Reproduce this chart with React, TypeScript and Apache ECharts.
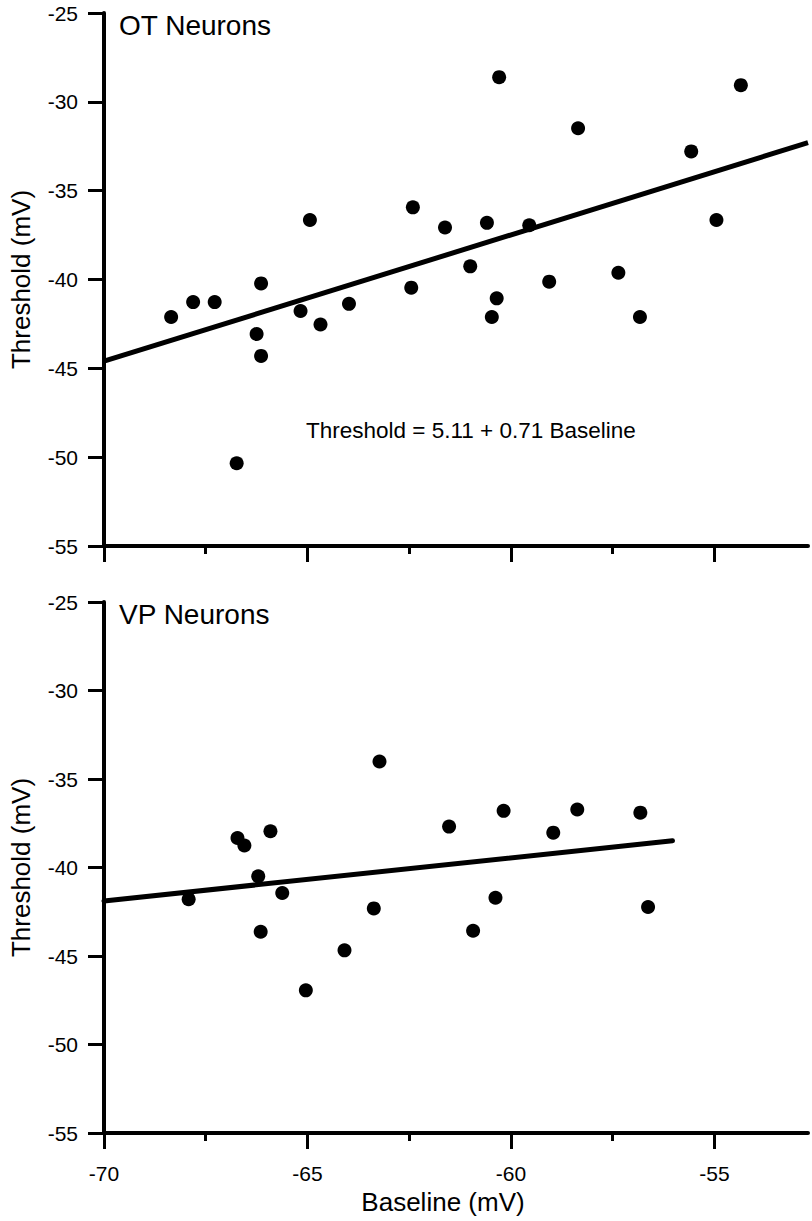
import React, { useEffect, useRef } from 'react';
import * as echarts from 'echarts';

// ---------- data ----------
const otBaseline = [-68.35, -67.81, -67.28, -66.14, -66.25, -66.14, -66.74, -64.94, -65.17, -64.68, -63.98, -62.41, -62.45, -61.62, -60.59, -59.55, -61.0, -60.35, -60.47, -59.06, -60.29, -58.35, -57.36, -56.83, -55.57, -54.95, -54.35];
const otThreshold = [-42.11, -41.27, -41.27, -40.22, -43.07, -44.3, -50.34, -36.65, -41.77, -42.53, -41.37, -35.94, -40.46, -37.07, -36.81, -36.95, -39.26, -41.06, -42.11, -40.12, -28.61, -31.49, -39.62, -42.11, -32.79, -36.65, -29.06];
const otFitX = [-70, -52.7];
const otFitY = [-44.6, -32.3];

const vpBaseline = [-67.92, -66.72, -66.55, -65.91, -66.21, -65.62, -66.15, -65.04, -64.09, -63.37, -63.23, -61.52, -60.18, -58.96, -58.37, -56.82, -60.38, -60.93, -56.63];
const vpThreshold = [-41.79, -38.33, -38.76, -37.95, -40.5, -41.44, -43.63, -46.94, -44.68, -42.31, -34.01, -37.69, -36.8, -38.03, -36.72, -36.9, -41.71, -43.57, -42.23];
const vpFitX = [-70, -56.03];
const vpFitY = [-41.89, -38.49];

const xMajorTicks = [-70, -65, -60, -55];
const xMinorTicks = [-67.5, -62.5, -57.5];

const panelTitles = ['OT Neurons', 'VP Neurons'];
const equationText = 'Threshold = 5.11 + 0.71 Baseline';
const xAxisTitle = 'Baseline (mV)';
const yAxisTitle = 'Threshold (mV)';

const FONT = "'Liberation Sans', Arial, Helvetica, sans-serif";

const zip = (xs: number[], ys: number[]) => xs.map((x, i) => [x, ys[i]]);

const X_MIN = -70;
const X_MAX = -52.7;

const grids = [
  { left: 101, top: 13, width: 707, height: 533 },
  { left: 101, top: 602, width: 707, height: 531 },
];

function makeXMain(g: number) {
  return {
    type: 'value',
    gridIndex: g,
    min: X_MIN,
    max: X_MAX,
    position: 'bottom',
    axisLine: { show: true, onZero: false, lineStyle: { color: '#000', width: 4 } },
    axisTick: {
      show: true,
      customValues: xMajorTicks,
      length: 16,
      lineStyle: { color: '#000', width: 3 },
    },
    splitLine: { show: false },
    axisLabel: {
      show: g === 1,
      customValues: xMajorTicks,
      fontSize: 21,
      color: '#000',
      fontFamily: FONT,
      margin: 30,
    },
    name: g === 1 ? xAxisTitle : '',
    nameLocation: 'middle',
    nameGap: 56,
    nameTextStyle: { fontSize: 26, color: '#000', fontFamily: FONT, padding: [0, 26, 0, 0] },
  };
}

function makeXMinor(g: number) {
  return {
    type: 'value',
    gridIndex: g,
    min: X_MIN,
    max: X_MAX,
    position: 'bottom',
    axisLine: { show: false, onZero: false },
    axisTick: {
      show: true,
      customValues: xMinorTicks,
      length: 8,
      lineStyle: { color: '#000', width: 3 },
    },
    splitLine: { show: false },
    axisLabel: { show: false },
  };
}

function makeY(g: number) {
  return {
    type: 'value',
    gridIndex: g,
    min: -55,
    max: -25,
    interval: 5,
    axisLine: { show: true, onZero: false, lineStyle: { color: '#000', width: 4 } },
    axisTick: { show: true, length: 16, lineStyle: { color: '#000', width: 3 } },
    splitLine: { show: false },
    axisLabel: { fontSize: 21, color: '#000', fontFamily: FONT, margin: 26 },
    name: yAxisTitle,
    nameLocation: 'middle',
    nameGap: 70,
    nameTextStyle: { fontSize: 26, color: '#000', fontFamily: FONT },
  };
}

export default function App() {
  const ref = useRef<HTMLDivElement>(null);
  useEffect(() => {
    if (!ref.current) return;
    const chart = echarts.init(ref.current, null, { renderer: 'svg' });
    const dot = { color: '#000', opacity: 1 };
    const option = {
      animation: false,
      backgroundColor: '#fff',
      grid: grids,
      xAxis: [makeXMain(0), makeXMinor(0), makeXMain(1), makeXMinor(1)],
      yAxis: [makeY(0), makeY(1)],
      series: [
        {
          type: 'scatter',
          xAxisIndex: 0,
          yAxisIndex: 0,
          data: zip(otBaseline, otThreshold),
          symbol: 'circle',
          symbolSize: 14,
          itemStyle: dot,
          z: 3,
        },
        {
          type: 'line',
          xAxisIndex: 0,
          yAxisIndex: 0,
          data: zip(otFitX, otFitY),
          showSymbol: false,
          lineStyle: { color: '#000', width: 5 },
          z: 4,
        },
        {
          type: 'scatter',
          xAxisIndex: 2,
          yAxisIndex: 1,
          data: zip(vpBaseline, vpThreshold),
          symbol: 'circle',
          symbolSize: 14,
          itemStyle: dot,
          z: 3,
        },
        {
          type: 'line',
          xAxisIndex: 2,
          yAxisIndex: 1,
          data: zip(vpFitX, vpFitY),
          showSymbol: false,
          lineStyle: { color: '#000', width: 5, cap: 'round' },
          z: 4,
        },
      ],
      graphic: [
        {
          type: 'text',
          left: 119,
          top: 11,
          style: { text: panelTitles[0], fontSize: 28, fill: '#000', fontFamily: FONT },
        },
        {
          type: 'text',
          left: 119,
          top: 600,
          style: { text: panelTitles[1], fontSize: 28, fill: '#000', fontFamily: FONT },
        },
        {
          type: 'text',
          left: 306,
          top: 419,
          style: { text: equationText, fontSize: 22.5, fill: '#000', fontFamily: FONT },
        },
      ],
    };
    chart.setOption(option as any);
    return () => chart.dispose();
  }, []);
  return (
    <div
      ref={ref}
      style={{ position: 'absolute', left: 0, top: 0, width: 812, height: 1221, background: '#fff' }}
    />
  );
}
